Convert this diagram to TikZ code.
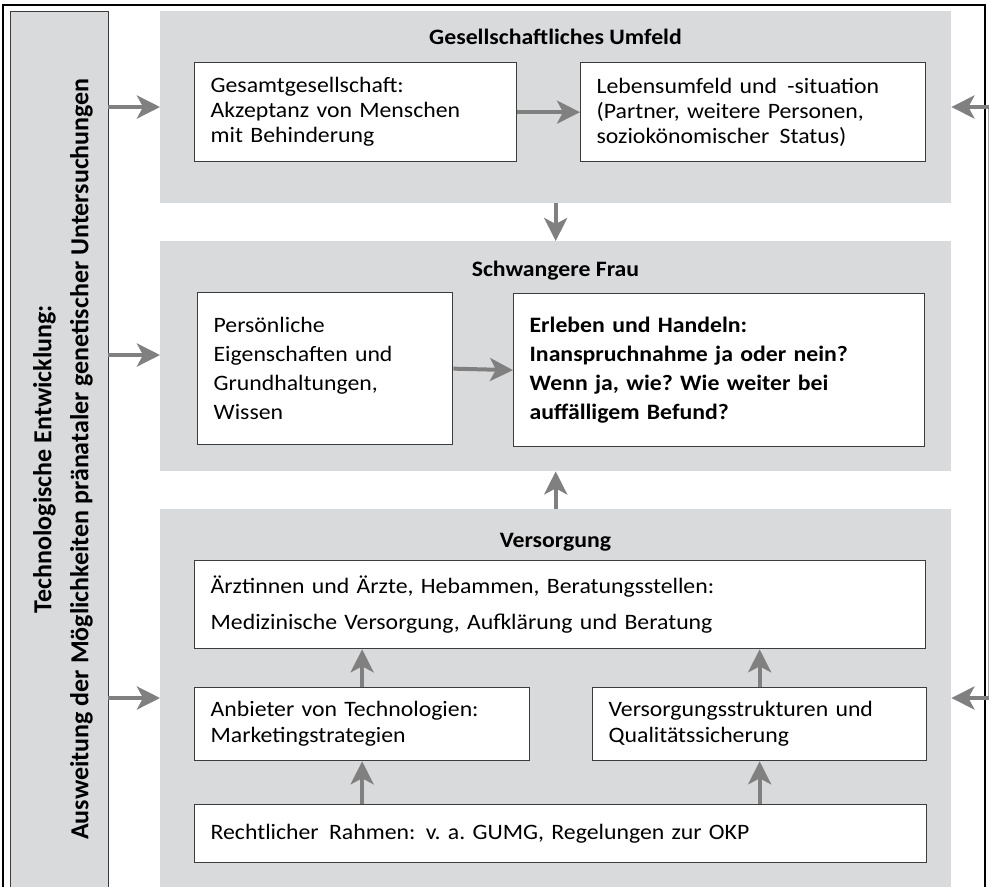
\documentclass[tikz,border=0pt]{standalone}
\usepackage{fontspec}
\setmainfont{Carlito}[FakeStretch=1.08]
\newfontfamily\barfont{Carlito}
\usetikzlibrary{arrows.meta}
\definecolor{panelgray}{HTML}{D9DADC}
\definecolor{arrowgray}{HTML}{808080}
\definecolor{boxline}{HTML}{3C3C3C}
\begin{document}
\frenchspacing
\begin{tikzpicture}[x=1pt,y=-1pt,
  panel/.style={fill=panelgray, draw=none, inner sep=0pt, anchor=north west},
  textbox/.style={draw=boxline, line width=1.3pt, fill=white, anchor=north west,
    inner xsep=16pt, inner ysep=0pt, align=left, font=\fontsize{22}{25}\selectfont},
  arr/.style={draw=arrowgray, line width=4pt, -{Stealth[length=23pt,width=23pt,inset=6pt]}},
  paneltitle/.style={font=\fontsize{22}{25}\selectfont\bfseries}]
\useasboundingbox (0,0) rectangle (989,887);
% outer frame
\draw[line width=2.5pt] (3,887) -- (3,5) -- (985,5) -- (985,887);
% left bar
\node[panel, draw=boxline, line width=1pt, minimum width=98pt, minimum height=880pt] (bar) at (10,11) {};
\node[rotate=90, align=center, font=\barfont\fontsize{26}{37}\selectfont\bfseries] (bartext) at (63,459)
  {Technologische Entwicklung:\\Ausweitung der Möglichkeiten pränataler genetischer Untersuchungen};
% right edge line
\draw[arrowgray!70, line width=1pt] (988,107) -- (988,698);
% panels
\node[panel, minimum width=791pt, minimum height=192pt] (p1) at (160,11) {};
\node[panel, minimum width=791pt, minimum height=230pt] (p2) at (160,241) {};
\node[panel, minimum width=791pt, minimum height=378pt] (p3) at (160,509) {};
\node[paneltitle] (t1) at (555.5,37) {Gesellschaftliches Umfeld};
\node[paneltitle] (t2) at (555.5,271) {Schwangere Frau};
\node[paneltitle] (t3) at (555.5,542) {Versorgung};
% boxes
\node[textbox, text width=290pt, minimum height=99pt] (b1) at (194,62)
  {Gesamtgesellschaft:\\Akzeptanz von Menschen\\mit Behinderung};
\node[textbox, text width=313pt, minimum height=99pt] (b2) at (580,62)
  {Lebensumfeld und\hspace{3pt} -situation\\(Partner, weitere Personen,\\soziokönomischer\hspace{3pt} Status)};
\node[textbox, text width=223pt, minimum height=152pt, font=\fontsize{22}{29}\selectfont] (b3) at (197,292)
  {Persönliche\\Eigenschaften und\\Grundhaltungen,\\Wissen};
\node[textbox, text width=379pt, minimum height=153pt, font=\fontsize{22}{29}\selectfont\bfseries] (b4) at (513,293)
  {Erleben und Handeln:\\Inanspruchnahme ja oder nein?\\Wenn ja, wie? Wie weiter bei\\auffälligem Befund?};
\node[textbox, text width=699pt, minimum height=88pt, font=\fontsize{22}{36}\selectfont] (b5) at (194,560)
  {Ärztinnen und Ärzte, Hebammen, Beratungsstellen:\\Medizinische Versorgung, Aufklärung und Beratung};
\node[textbox, text width=303pt, minimum height=73pt, font=\fontsize{22}{26}\selectfont] (b6) at (194,687)
  {Anbieter von Technologien:\\Marketingstrategien};
\node[textbox, text width=302pt, minimum height=73pt, font=\fontsize{22}{26}\selectfont] (b7) at (592,687)
  {Versorgungsstrukturen und\\Qualitätssicherung};
\node[textbox, text width=700pt, minimum height=58pt] (b8) at (194,804)
  {Rechtlicher\hspace{3pt} Rahmen:\hspace{3pt} v. a. GUMG, Regelungen zur OKP};
% coordinates for free arrow ends
\coordinate (l1) at (108,107);
\coordinate (l2) at (108,355);
\coordinate (l3) at (108,698);
\coordinate (r1) at (989,107);
\coordinate (r3) at (989,698);
% arrows
\draw[arr] (l1) -- (l1 -| p1.west);
\draw[arr] (l2) -- (l2 -| p2.west);
\draw[arr] (l3) -- (l3 -| p3.west);
\draw[arr] (r1) -- (r1 -| p1.east);
\draw[arr] (r3) -- (r3 -| p3.east);
\draw[arr] (b1.east) -- (b2.west);
\draw[arr] (p1.south) -- (p2.north);
\draw[arr] (b3.east) -- (b4.west);
\draw[arr] (p3.north) -- (p2.south);
\draw[arr] (b6.north) -- (b6.north |- b5.south);
\draw[arr] (b8.north -| b6.north) -- (b6.south);
\draw[arr] (b7.north) -- (b7.north |- b5.south);
\draw[arr] (b8.north -| b7.north) -- (b7.south);
\end{tikzpicture}
\end{document}
